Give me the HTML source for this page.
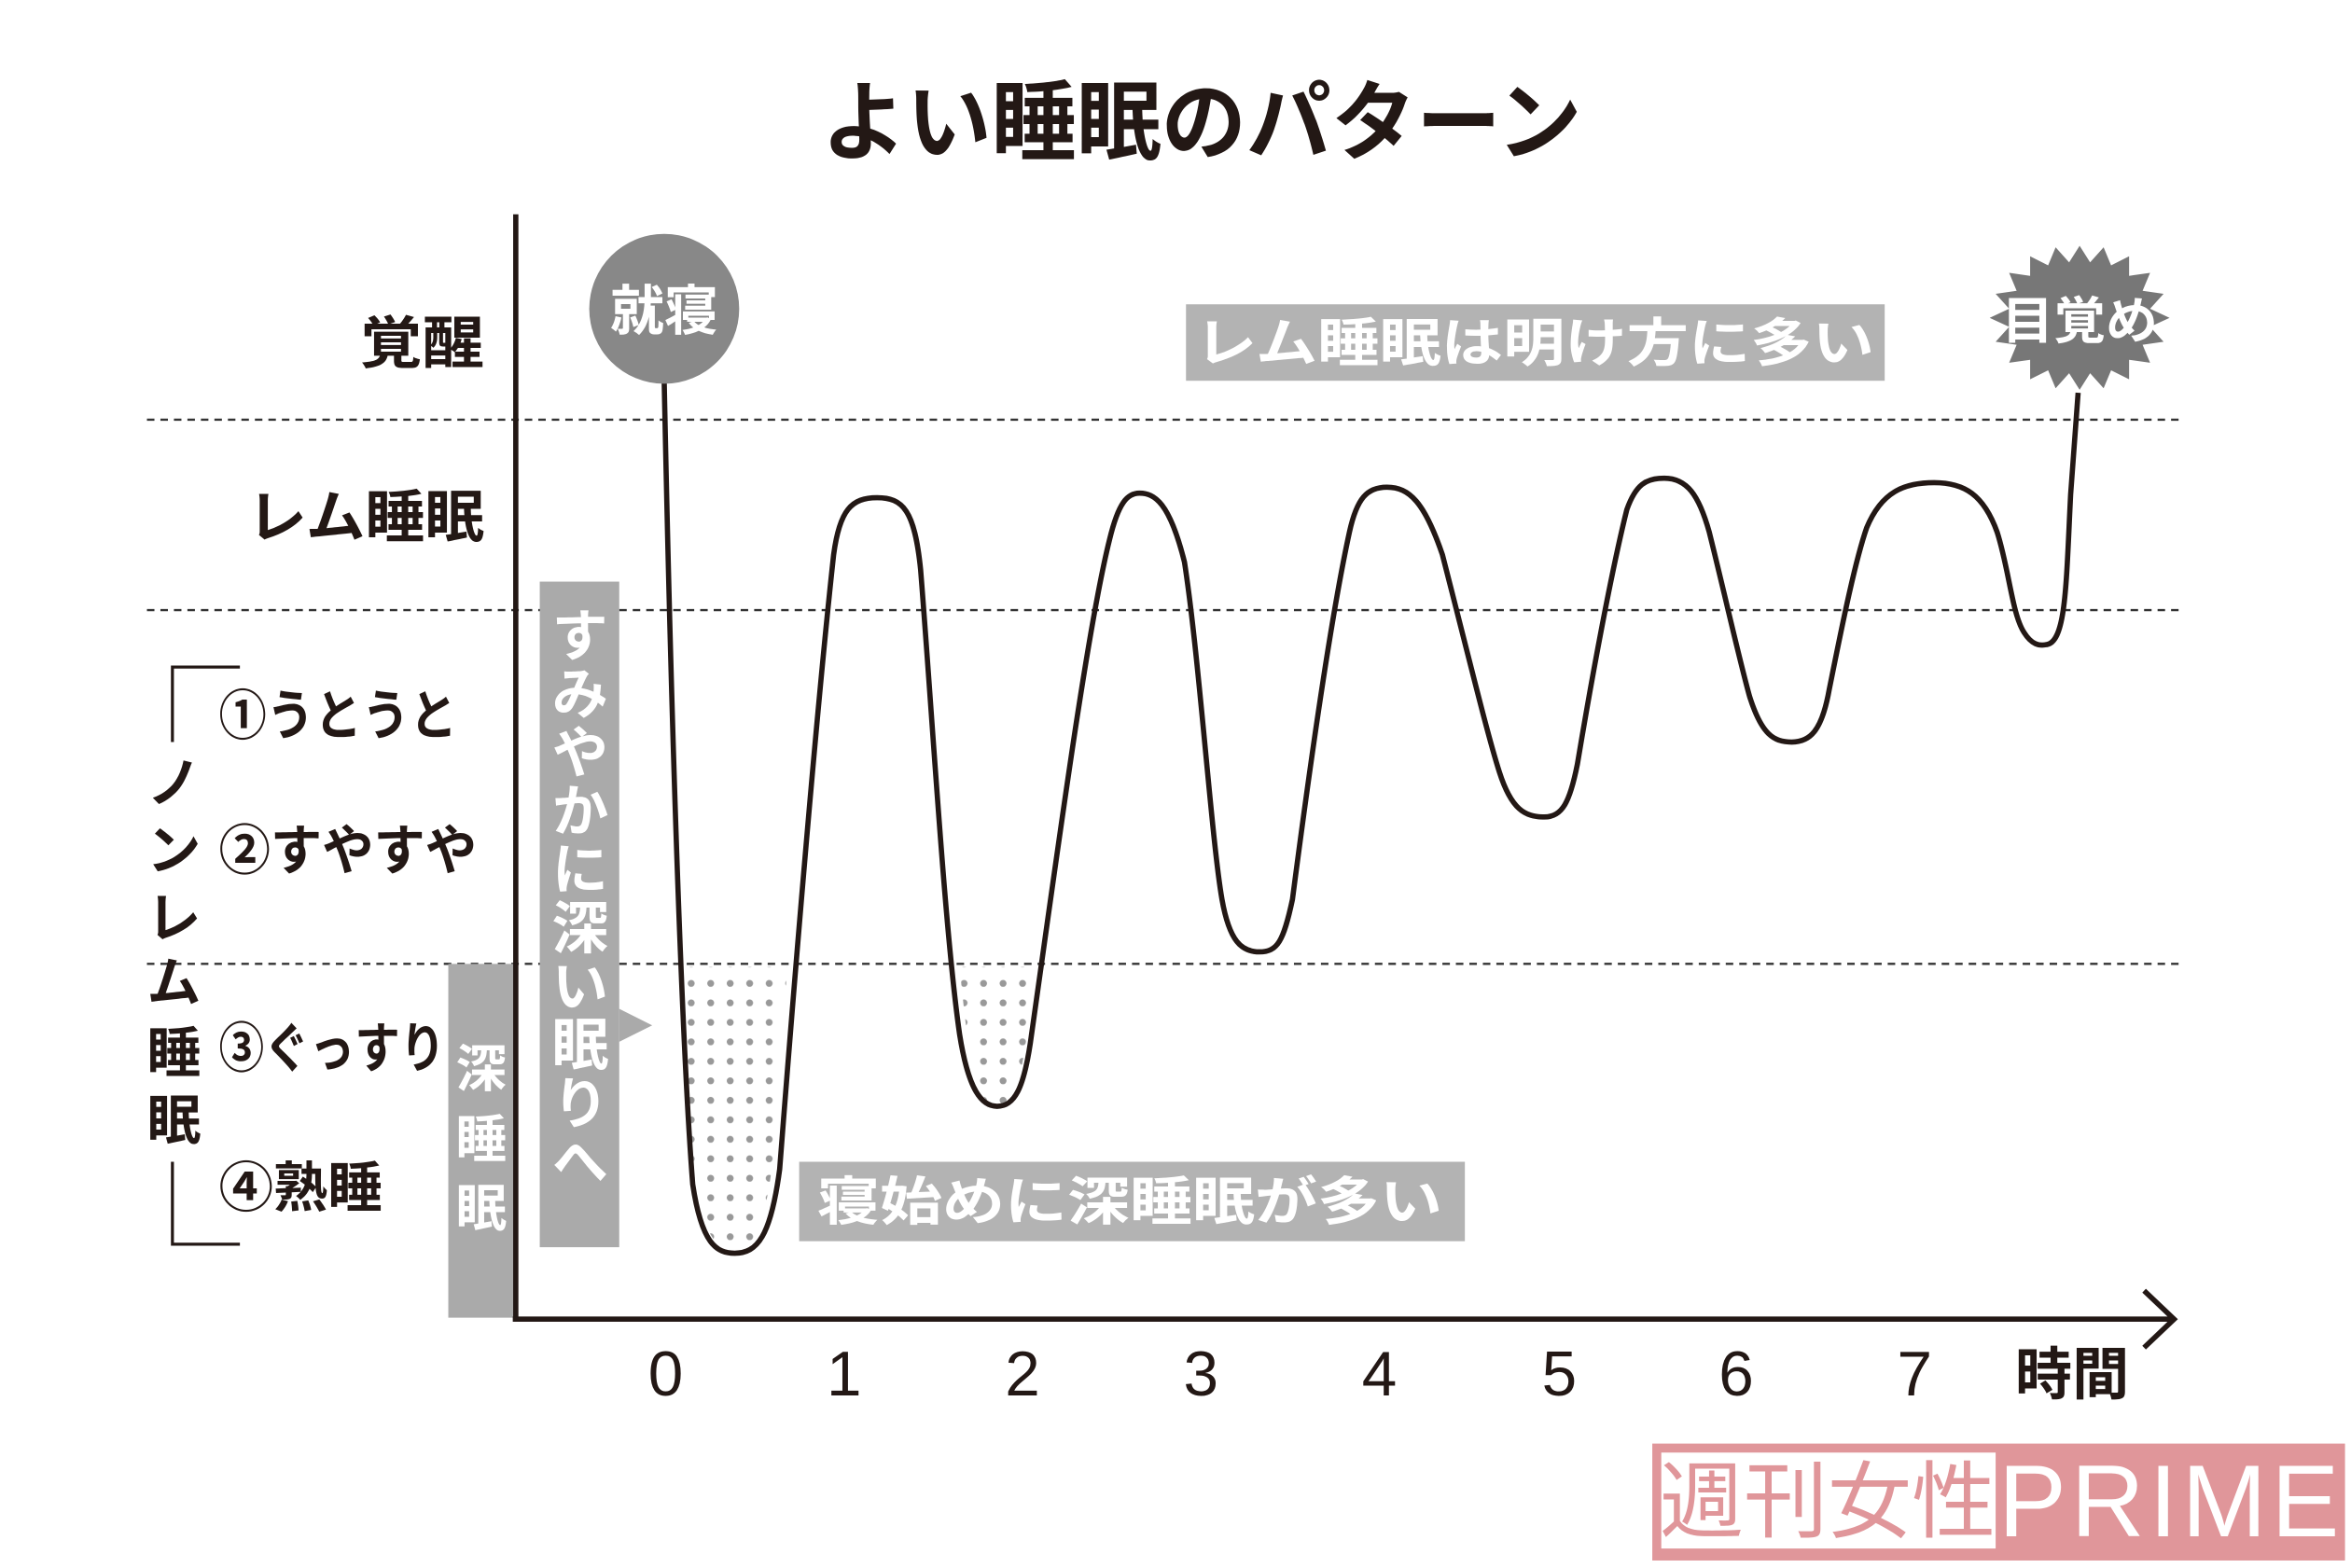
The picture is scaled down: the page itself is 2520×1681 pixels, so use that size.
<!DOCTYPE html>
<html><head><meta charset="utf-8"><style>
html,body{margin:0;padding:0;background:#fff;}
svg{display:block;}
text{font-family:"Liberation Sans","Noto Sans CJK JP",sans-serif;}
.j{font-family:"Noto Sans CJK JP",sans-serif;font-weight:700;}
</style></head><body>
<svg width="2520" height="1681" viewBox="0 0 1568 1046" preserveAspectRatio="none" xmlns="http://www.w3.org/2000/svg">
<defs>
<pattern id="dots" width="13" height="13" patternUnits="userSpaceOnUse">
<circle cx="6" cy="6" r="2.3" fill="#999"/>
</pattern>
</defs>
<rect width="1568" height="1046" fill="#fff"/>
<text x="548" y="102" textLength="507" lengthAdjust="spacingAndGlyphs" class="j" font-size="58" fill="#231815">よい睡眠のパターン</text>

<g stroke="#333" stroke-width="1.5" stroke-dasharray="5,4">
<line x1="98" y1="280" x2="1455" y2="280"/>
<line x1="98" y1="407" x2="1455" y2="407"/>
<line x1="98" y1="643" x2="1455" y2="643"/>
</g>

<path d="M452,645 C456,760 462,835 490,835 C515,835 518,760 525,645 Z" fill="url(#dots)"/>
<path d="M640,645 C646,705 650,737 665,737 C680,737 684,705 690,645 Z" fill="url(#dots)"/>

<rect x="299" y="643" width="44" height="236" fill="#aaa"/>
<text class="j" font-size="34" fill="#fff" text-anchor="middle"><tspan x="321" y="725">深</tspan><tspan x="321" y="772">睡</tspan><tspan x="321" y="818">眠</tspan></text>
<rect x="360" y="388" width="53" height="444" fill="#aaa"/>
<polygon points="413,673 435,684 413,695" fill="#aaa"/>
<text class="j" font-size="38" fill="#fff" x="387" y="404" letter-spacing="1" style="writing-mode:vertical-rl">すみやかに深い眠りへ</text>

<rect x="791" y="203" width="466" height="51" fill="#b3b3b3"/>
<text x="797" y="241" textLength="453" lengthAdjust="spacingAndGlyphs" class="j" font-size="35" fill="#fff">レム睡眠は明け方に多い</text>
<rect x="533" y="775" width="444" height="53" fill="#b3b3b3"/>
<text x="545" y="814" textLength="417" lengthAdjust="spacingAndGlyphs" class="j" font-size="35" fill="#fff">寝始めに深睡眠が多い</text>

<g stroke="#231815" stroke-width="3.5" fill="none">
<line x1="344" y1="143" x2="344" y2="881"/>
<line x1="342" y1="880" x2="1450" y2="880"/>
<polyline points="1430,861 1450,880 1430,899"/>
</g>

<path fill="none" stroke="#231815" stroke-width="3.5" stroke-linejoin="round"
d="M443,255 C448,500 455,700 462,790 C468,830 478,836 490,836 C505,836 514,825 520,780
C530,650 545,470 556,370 C560,340 568,332 585,332 C602,332 610,340 614,380
C622,480 630,620 640,690 C646,728 655,738 665,738 C676,738 683,728 688,690
C705,570 725,420 740,360 C746,335 752,329 760,329 C770,329 780,335 790,375
C800,440 808,560 815,600 C820,628 828,635 840,635 C852,635 856,628 862,600
C875,500 888,410 900,355 C905,332 912,325 925,325 C940,325 950,335 962,370
C980,440 992,490 1000,515 C1008,540 1017,545 1030,545 C1042,545 1047,535 1052,510
C1062,450 1075,380 1085,340 C1091,323 1098,319 1110,319 C1125,319 1133,330 1140,355
C1150,395 1160,440 1167,465 C1175,490 1183,495 1195,495 C1207,495 1215,488 1220,460
C1228,420 1237,375 1245,352 C1255,328 1270,322 1290,322 C1310,322 1323,330 1332,355
C1340,380 1342,410 1350,422 C1355,430 1360,431 1365,430 C1378,428 1378,390 1381,330 L1386,262"/>

<circle cx="443" cy="206" r="50" fill="#888"/>
<text x="443" y="220" text-anchor="middle" class="j" font-size="36" fill="#fff">就寝</text>
<polygon fill="#777" points="
1447,212 1434,218 1443,228 1429,230 1434,242 1420,240 1420,253 1408,247 1403,259 1394,249 1387,260 1380,249 1371,259 1366,247 1354,253 1354,240 1340,242 1345,230 1331,228 1340,218 1327,212 1340,206 1331,196 1345,194 1340,182 1354,184 1354,171 1366,177 1371,165 1380,175 1387,164 1394,175 1403,165 1408,177 1420,171 1420,184 1434,182 1429,194 1443,196 1434,206"/>
<text x="1335" y="226" textLength="104" lengthAdjust="spacingAndGlyphs" class="j" font-size="34" fill="#fff">目覚め</text>

<g class="j" fill="#231815">
<text x="240" y="242" textLength="83" lengthAdjust="spacingAndGlyphs" font-size="38">覚醒</text>
<text x="165" y="358" textLength="158" lengthAdjust="spacingAndGlyphs" font-size="38">レム睡眠</text>
<text x="146" y="490" textLength="159" lengthAdjust="spacingAndGlyphs" font-size="36">①うとうと</text>
<text x="146" y="580" textLength="172" lengthAdjust="spacingAndGlyphs" font-size="36">②すやすや</text>
<text x="146" y="712" textLength="151" lengthAdjust="spacingAndGlyphs" font-size="36">③ぐっすり</text>
<text x="146" y="805" textLength="109" lengthAdjust="spacingAndGlyphs" font-size="36">④熟睡</text>
<text font-size="36" text-anchor="middle"><tspan x="116" y="535">ノ</tspan><tspan x="116" y="580">ン</tspan><tspan x="116" y="625">レ</tspan><tspan x="116" y="668">ム</tspan><tspan x="116" y="715">睡</tspan><tspan x="116" y="760">眠</tspan></text>
</g>
<g stroke="#231815" stroke-width="2" fill="none">
<polyline points="160,445 115,445 115,495"/>
<polyline points="115,775 115,830 160,830"/>
</g>

<g font-size="42" fill="#231815" text-anchor="middle" font-family="Liberation Sans,sans-serif">
<text x="444" y="931">0</text><text x="563" y="931">1</text><text x="682" y="931">2</text><text x="801" y="931">3</text>
<text x="920" y="931">4</text><text x="1040" y="931">5</text><text x="1158" y="931">6</text><text x="1277" y="931">7</text>
</g>
<text x="1382" y="930" text-anchor="middle" class="j" font-size="38" fill="#231815">時間</text>

<rect x="1102" y="963" width="462" height="78" fill="#e0969a"/>
<rect x="1108" y="969" width="223" height="64" fill="#fff"/>
<text x="1219" y="1021" text-anchor="middle" font-family="Noto Sans CJK JP,sans-serif" font-size="56" fill="#e0969a">週刊女性</text>
<text x="1448" y="1025" text-anchor="middle" font-family="Liberation Sans,sans-serif" font-size="68" fill="#fff" letter-spacing="3">PRIME</text>
</svg>
</body></html>
